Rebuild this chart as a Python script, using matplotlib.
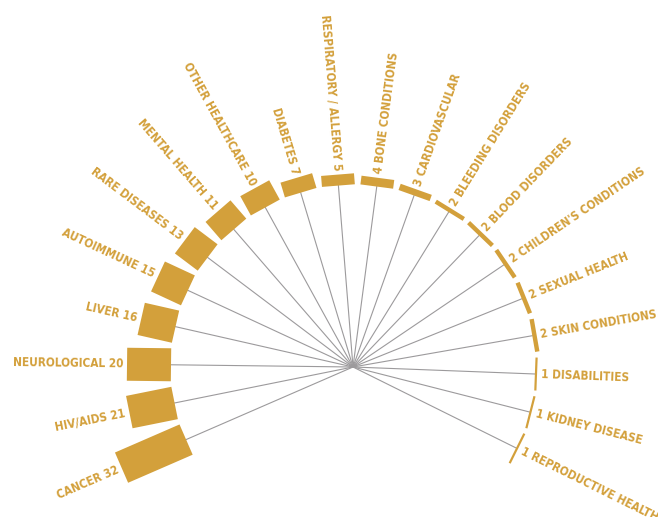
import matplotlib.pyplot as plt
from matplotlib.patches import Polygon
from matplotlib import font_manager
import numpy as np

categories = ['CANCER', 'HIV/AIDS', 'NEUROLOGICAL', 'LIVER', 'AUTOIMMUNE',
              'RARE DISEASES', 'MENTAL HEALTH', 'OTHER HEALTHCARE', 'DIABETES',
              'RESPIRATORY / ALLERGY', 'BONE CONDITIONS', 'CARDIOVASCULAR',
              'BLEEDING DISORDERS', 'BLOOD DISORDERS', "CHILDREN'S CONDITIONS",
              'SEXUAL HEALTH', 'SKIN CONDITIONS', 'DISABILITIES', 'KIDNEY DISEASE',
              'REPRODUCTIVE HEALTH']
values = [32, 21, 20, 16, 15, 13, 11, 10, 7, 5, 4, 3, 2, 2, 2, 2, 2, 1, 1, 1]

gold = '#D3A03B'
line_grey = '#9c9a9c'

# look for a narrow / condensed bold face, fall back to DejaVu Sans
narrow = None
for f in font_manager.fontManager.ttflist:
    cond = 'narrow' in f.name.lower() or 'condensed' in str(f.stretch).lower() \
        or 'condensed' in f.fname.lower()
    if cond and f.weight in ('bold', 700, 'semibold', 600):
        narrow = f.fname
        break
if narrow:
    fp = font_manager.FontProperties(fname=narrow, size=8.5)
else:
    fp = font_manager.FontProperties(family='DejaVu Sans', weight='bold', size=7.2)

# layout (pixel-like data units, centre of the fan at 0,0)
r_in = 182
scale = 2.2
start_deg = 203.5
step_deg = 12.1
half_w = np.radians(5.2)

fig = plt.figure(figsize=(6.58, 5.17), dpi=100)
ax = fig.add_axes([0, 0, 1, 1])
ax.set_xlim(-353, 305)
ax.set_ylim(-150, 367)
ax.set_aspect('equal')
ax.axis('off')

for i, (name, val) in enumerate(zip(categories, values)):
    ang = np.radians(start_deg - i * step_deg)
    u = np.array([np.cos(ang), np.sin(ang)])
    t = np.array([-np.sin(ang), np.cos(ang)])
    h = val * scale
    half = r_in * np.sin(half_w)
    p0 = u * r_in
    p1 = u * (r_in + h)
    corners = [p0 - t * half, p0 + t * half, p1 + t * half, p1 - t * half]
    ax.add_patch(Polygon(corners, closed=True, facecolor=gold, edgecolor='none'))
    ax.plot([0, p0[0]], [0, p0[1]], color=line_grey, lw=0.8, zorder=0)

    lp = u * (r_in + h + 4)
    deg = np.degrees(ang)
    if deg > 90:
        ax.text(lp[0], lp[1], f'{name} {val}', rotation=deg - 180,
                rotation_mode='anchor', ha='right', va='center',
                color=gold, fontproperties=fp)
    else:
        ax.text(lp[0], lp[1], f'{val} {name}', rotation=deg,
                rotation_mode='anchor', ha='left', va='center',
                color=gold, fontproperties=fp)

fig.savefig('out.png', dpi=100)
